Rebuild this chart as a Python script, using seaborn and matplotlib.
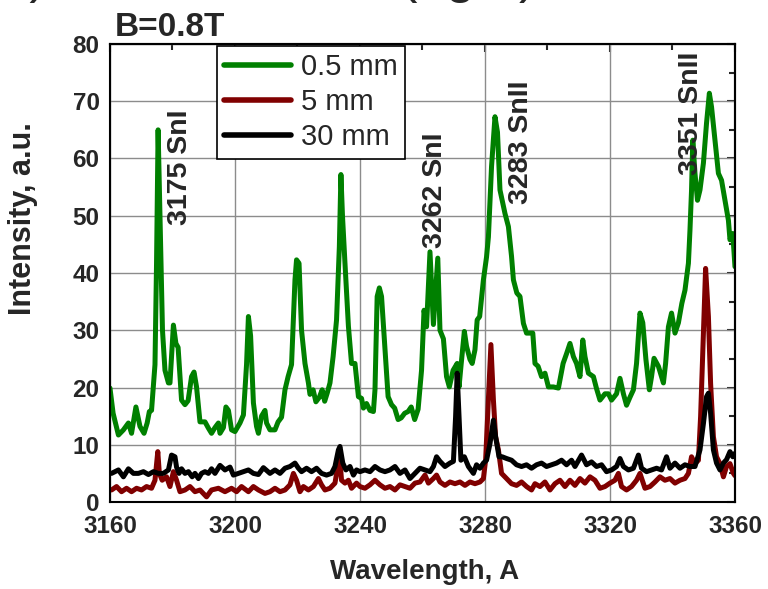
import matplotlib
matplotlib.use("Agg")
import matplotlib.pyplot as plt
from matplotlib.ticker import MultipleLocator
import pandas as pd
import seaborn as sns

# 0.5 mm (green)
wl_05 = [3160.0, 3161.0, 3162.7, 3164.3, 3165.9, 3166.9, 3168.3, 3169.6, 3170.9, 3171.9,
         3172.6, 3173.3, 3174.4, 3174.9, 3175.4, 3176.0, 3176.8, 3177.6, 3178.7, 3179.2,
         3180.3, 3181.1, 3181.8, 3182.9, 3184.0, 3185.0, 3186.1, 3186.9, 3187.7, 3188.8,
         3190.4, 3191.5, 3192.5, 3193.6, 3194.7, 3195.2, 3196.3, 3197.1, 3197.9, 3198.9,
         3200.0, 3201.6, 3202.7, 3203.7, 3204.3, 3205.0, 3205.9, 3206.9, 3207.5, 3208.5,
         3209.6, 3210.1, 3211.2, 3212.8, 3213.8, 3214.9, 3216.0, 3217.0, 3218.1, 3219.2,
         3219.7, 3220.5, 3221.3, 3222.4, 3223.5, 3224.0, 3225.0, 3225.9, 3227.0, 3227.9,
         3228.7, 3229.5, 3230.4, 3231.4, 3232.5, 3233.4, 3233.9, 3234.4, 3235.2, 3236.3,
         3237.3, 3238.4, 3239.5, 3240.5, 3241.1, 3242.1, 3243.2, 3244.3, 3244.8, 3245.5,
         3246.2, 3246.9, 3247.9, 3249.0, 3250.1, 3251.1, 3252.2, 3253.2, 3254.3, 3255.4,
         3256.4, 3257.5, 3258.6, 3259.7, 3260.5, 3261.3, 3262.4, 3263.5, 3264.9, 3265.6,
         3266.7, 3267.7, 3268.6, 3269.8, 3271.1, 3271.7, 3272.4, 3273.4, 3274.1, 3275.2,
         3275.9, 3276.8, 3277.5, 3278.3, 3279.5, 3280.5, 3281.1, 3282.1, 3283.2, 3284.0,
         3284.8, 3286.4, 3287.5, 3288.5, 3289.1, 3290.2, 3291.2, 3292.3, 3293.3, 3294.4,
         3295.3, 3296.0, 3297.0, 3298.1, 3299.2, 3300.3, 3301.9, 3303.5, 3305.0, 3306.1,
         3307.2, 3308.3, 3309.3, 3310.4, 3311.3, 3312.0, 3313.1, 3314.7, 3315.7, 3316.8,
         3318.4, 3319.5, 3320.5, 3322.1, 3323.2, 3324.3, 3325.3, 3326.4, 3327.5, 3328.5,
         3329.6, 3330.5, 3331.5, 3332.6, 3333.3, 3334.1, 3335.5, 3336.5, 3337.1, 3337.8,
         3338.7, 3339.7, 3340.8, 3341.9, 3343.0, 3344.0, 3345.1, 3345.6, 3346.1, 3346.5,
         3347.2, 3348.0, 3348.8, 3349.9, 3350.9, 3351.8, 3352.5, 3353.6, 3354.7, 3355.7,
         3356.8, 3357.9, 3358.4, 3359.3, 3360.0]
int_05 = [19.9, 15.5, 11.7, 12.6, 13.8, 12.0, 16.6, 13.2, 12.0, 13.8,
          15.8, 16.0, 24.0, 41.7, 65.0, 50.0, 30.0, 23.0, 20.8, 20.8,
          30.9, 27.7, 27.0, 17.8, 17.0, 17.7, 21.9, 22.7, 20.1, 14.0,
          14.0, 12.9, 12.0, 13.0, 13.8, 12.0, 13.0, 16.6, 16.0, 12.6,
          12.3, 13.8, 15.2, 24.0, 32.4, 29.0, 17.3, 13.2, 12.0, 15.0,
          16.0, 13.8, 12.6, 12.6, 14.0, 14.8, 19.6, 21.9, 24.0, 38.8,
          42.3, 41.7, 30.0, 24.2, 20.8, 18.8, 19.6, 17.5, 18.3, 19.6,
          17.6, 19.0, 20.8, 25.4, 31.8, 44.6, 57.2, 50.0, 41.7, 30.7,
          24.2, 24.2, 18.4, 18.1, 16.4, 17.2, 16.0, 15.8, 19.6, 35.9,
          37.4, 35.9, 27.7, 18.4, 17.0, 16.4, 14.4, 14.7, 15.5, 15.8,
          16.6, 14.4, 16.2, 23.0, 33.5, 30.6, 43.7, 31.0, 42.6, 30.0,
          28.5, 21.9, 20.1, 23.0, 24.2, 20.1, 24.2, 29.8, 27.2, 24.9,
          24.2, 26.6, 31.8, 32.4, 38.8, 42.8, 46.3, 58.6, 67.3, 64.6,
          54.5, 50.4, 48.1, 42.9, 38.8, 36.5, 35.9, 31.2, 29.5, 29.5,
          29.5, 24.2, 23.7, 21.9, 22.5, 20.1, 20.1, 19.9, 24.2, 25.9,
          27.7, 25.4, 24.2, 21.9, 28.3, 25.4, 22.5, 21.9, 19.8, 17.8,
          18.9, 18.9, 17.8, 18.9, 21.6, 18.9, 16.9, 18.3, 19.6, 24.2,
          33.0, 31.3, 24.9, 19.6, 21.9, 25.1, 23.7, 21.9, 20.8, 24.2,
          30.6, 33.0, 29.5, 31.3, 34.7, 37.0, 41.7, 47.5, 54.5, 63.2,
          57.4, 52.7, 54.5, 59.2, 66.2, 71.4, 69.0, 63.2, 57.4, 56.2,
          52.7, 49.2, 45.8, 46.9, 41.1]

# 5 mm (dark red)
wl_5 = [3160.5, 3162.1, 3163.7, 3165.3, 3166.9, 3168.5, 3170.1, 3171.7, 3173.3, 3174.4,
        3175.3, 3175.8, 3176.7, 3178.1, 3179.2, 3180.3, 3181.3, 3182.4, 3184.0, 3185.6,
        3187.2, 3188.8, 3190.4, 3190.9, 3192.5, 3194.7, 3196.8, 3198.9, 3200.5, 3202.1,
        3204.3, 3205.9, 3207.5, 3209.6, 3211.2, 3212.8, 3214.4, 3216.0, 3217.6, 3218.7,
        3219.7, 3220.8, 3221.9, 3223.5, 3225.1, 3226.7, 3227.7, 3228.8, 3230.4, 3232.0,
        3232.7, 3233.4, 3234.1, 3235.2, 3236.3, 3237.3, 3238.9, 3240.0, 3241.6, 3243.2,
        3244.8, 3246.4, 3248.0, 3249.6, 3251.2, 3252.8, 3254.4, 3256.0, 3257.6, 3259.2,
        3260.8, 3261.9, 3263.5, 3264.5, 3265.6, 3267.2, 3268.8, 3270.4, 3272.0, 3273.6,
        3275.2, 3276.8, 3278.4, 3279.5, 3280.2, 3281.1, 3281.9, 3282.7, 3283.4, 3284.3,
        3285.3, 3286.9, 3288.5, 3290.1, 3291.7, 3293.3, 3294.9, 3296.0, 3297.6, 3299.2,
        3300.8, 3302.4, 3304.0, 3305.6, 3307.2, 3308.8, 3310.4, 3312.0, 3313.6, 3315.2,
        3316.8, 3318.4, 3320.0, 3321.6, 3322.7, 3323.7, 3325.3, 3326.9, 3328.5, 3329.6,
        3331.2, 3332.8, 3334.4, 3336.0, 3337.6, 3339.2, 3340.8, 3342.4, 3344.0, 3345.1,
        3346.1, 3347.2, 3348.3, 3349.0, 3349.9, 3350.6, 3351.5, 3352.2, 3353.1, 3354.1,
        3355.2, 3356.3, 3357.3, 3358.4, 3359.5, 3360.0]
int_5 = [2.1, 2.7, 1.8, 2.4, 1.8, 2.4, 2.1, 2.7, 2.4, 3.8,
         8.8, 5.0, 3.8, 4.4, 2.7, 5.3, 3.8, 1.8, 2.1, 2.7,
         1.8, 2.1, 1.2, 0.9, 2.1, 2.4, 1.8, 2.4, 1.8, 2.7,
         1.8, 2.7, 2.1, 1.5, 1.8, 2.4, 1.8, 2.1, 3.0, 5.0,
         3.8, 1.8, 2.7, 2.1, 2.7, 4.1, 3.0, 2.1, 2.4, 3.3,
         5.6, 8.5, 3.8, 3.3, 3.8, 2.4, 3.3, 2.7, 2.4, 3.0,
         3.8, 3.0, 2.4, 2.7, 2.1, 3.0, 2.7, 2.4, 3.3, 3.5,
         4.7, 3.3, 4.1, 4.7, 3.5, 2.9, 3.5, 3.2, 3.5, 2.9,
         3.5, 3.2, 3.5, 4.1, 7.3, 17.8, 27.5, 17.8, 11.4, 9.1,
         5.0, 4.1, 3.2, 2.9, 3.5, 2.7, 2.1, 3.2, 2.7, 3.5,
         2.1, 3.2, 3.8, 2.7, 3.8, 2.9, 4.1, 3.3, 4.4, 3.8,
         2.4, 2.7, 3.3, 3.8, 5.0, 2.7, 2.1, 2.7, 3.8, 5.0,
         2.4, 2.7, 3.5, 4.4, 3.8, 4.1, 3.3, 3.8, 4.1, 5.0,
         7.9, 6.7, 7.3, 14.9, 29.4, 40.8, 32.4, 20.7, 11.4, 7.9,
         6.7, 4.4, 6.2, 6.7, 5.0, 4.6]

# 30 mm (black)
wl_30 = [3160.5, 3162.7, 3164.3, 3165.9, 3167.5, 3169.1, 3170.7, 3172.3, 3173.9, 3175.5,
         3177.1, 3178.7, 3179.7, 3180.8, 3181.3, 3182.1, 3182.9, 3184.0, 3185.1, 3186.3,
         3187.2, 3188.3, 3189.3, 3190.4, 3191.5, 3192.5, 3193.6, 3195.2, 3196.8, 3198.4,
         3199.5, 3201.1, 3202.7, 3204.3, 3205.9, 3207.5, 3209.1, 3211.2, 3212.8, 3214.4,
         3216.0, 3217.6, 3219.2, 3220.3, 3221.3, 3222.9, 3224.5, 3226.1, 3227.7, 3229.3,
         3230.9, 3232.0, 3233.1, 3233.6, 3234.5, 3235.5, 3236.8, 3237.9, 3238.9, 3240.0,
         3241.6, 3243.2, 3244.8, 3246.4, 3248.0, 3249.6, 3251.2, 3252.8, 3254.4, 3256.0,
         3257.6, 3259.2, 3260.8, 3262.4, 3263.5, 3264.5, 3265.6, 3267.2, 3268.8, 3269.9,
         3270.6, 3271.1, 3271.7, 3272.3, 3273.4, 3274.7, 3276.3, 3277.3, 3278.4, 3279.5,
         3280.5, 3281.6, 3282.7, 3283.4, 3284.5, 3285.5, 3286.9, 3288.5, 3290.1, 3291.7,
         3293.3, 3294.9, 3296.5, 3298.1, 3299.7, 3301.3, 3302.9, 3304.5, 3306.1, 3307.7,
         3308.8, 3310.9, 3312.5, 3314.1, 3315.7, 3317.3, 3318.9, 3320.5, 3322.1, 3323.2,
         3324.3, 3325.9, 3327.5, 3329.1, 3330.1, 3331.7, 3333.3, 3334.9, 3336.5, 3338.1,
         3339.2, 3340.8, 3342.4, 3344.0, 3345.6, 3347.2, 3348.8, 3349.9, 3350.9, 3351.5,
         3352.2, 3353.1, 3354.1, 3355.2, 3356.3, 3357.3, 3358.4, 3359.3, 3360.0]
int_30 = [5.0, 5.6, 4.4, 5.8, 5.0, 5.0, 5.3, 4.8, 5.3, 5.0,
          5.0, 5.6, 8.2, 7.9, 6.1, 5.0, 5.8, 5.0, 5.3, 4.4,
          5.0, 4.1, 5.0, 5.3, 5.0, 5.8, 5.0, 6.4, 5.6, 6.1,
          4.7, 5.0, 5.3, 5.6, 5.0, 4.8, 6.0, 5.0, 5.6, 5.0,
          5.9, 6.2, 6.8, 5.9, 5.3, 5.9, 5.3, 5.9, 5.0, 4.7,
          5.0, 6.2, 9.1, 9.7, 6.8, 5.6, 6.2, 4.7, 5.6, 5.3,
          5.6, 5.3, 6.2, 5.6, 5.3, 5.6, 6.2, 5.0, 5.6, 4.1,
          5.0, 5.9, 5.6, 5.3, 6.2, 7.9, 7.1, 6.2, 6.8, 7.1,
          14.9, 22.5, 14.9, 7.3, 7.9, 6.2, 5.0, 6.5, 5.9, 6.8,
          7.3, 10.2, 14.3, 11.4, 7.9, 7.9, 7.6, 7.3, 6.5, 6.2,
          6.5, 5.9, 6.5, 6.8, 6.2, 6.5, 6.8, 7.3, 6.5, 7.3,
          6.2, 8.2, 6.5, 7.0, 6.2, 6.5, 5.3, 5.6, 6.2, 7.6,
          6.2, 5.6, 5.9, 8.2, 5.9, 5.3, 5.6, 5.9, 5.6, 7.9,
          5.9, 6.8, 5.9, 6.5, 6.2, 6.2, 9.1, 13.7, 18.4, 19.0,
          15.5, 9.1, 6.8, 5.6, 6.8, 7.4, 8.8, 7.9, 8.5]

series_labels = ["0.5 mm", "5 mm", "30 mm"]
series_colors = ["#008000", "#800000", "#000000"]

line_labels = ["3175 SnI", "3262 SnI", "3283 SnII", "3351 SnII"]
line_x = [3182.5, 3264.0, 3291.5, 3346.0]
line_top = [68.5, 64.5, 73.7, 78.6]

df = pd.concat([
    pd.DataFrame({"wl": wl_05, "I": int_05, "d": series_labels[0]}),
    pd.DataFrame({"wl": wl_5, "I": int_5, "d": series_labels[1]}),
    pd.DataFrame({"wl": wl_30, "I": int_30, "d": series_labels[2]}),
], ignore_index=True)

sns.set_style("white")
plt.rcParams['font.family'] = ['Liberation Sans', 'DejaVu Sans']

fig = plt.figure(figsize=(7.68, 5.89), dpi=100)
ax = fig.add_axes([0.1432, 0.1477, 0.8138, 0.7776])

sns.lineplot(data=df, x="wl", y="I", hue="d", hue_order=series_labels,
             palette=dict(zip(series_labels, series_colors)),
             estimator=None, sort=False, lw=3.6, ax=ax)

ax.set_xlim(3160, 3360)
ax.set_ylim(0, 80)
ax.xaxis.set_major_locator(MultipleLocator(40))
ax.xaxis.set_minor_locator(MultipleLocator(20))
ax.yaxis.set_major_locator(MultipleLocator(10))
ax.yaxis.set_minor_locator(MultipleLocator(5))
ax.grid(True, which='major', color='#8c8c8c', lw=1.0)
ax.set_axisbelow(True)
for s in ax.spines.values():
    s.set_color('black')
    s.set_linewidth(1.5)
ax.tick_params(which='major', direction='out', length=6, width=1.5,
               labelsize=17.5, pad=3)
ax.tick_params(which='minor', direction='out', length=4, width=1.5)
ax.tick_params(axis='y', pad=1.5)
plt.setp(ax.get_xticklabels() + ax.get_yticklabels(), fontweight='bold')

# inward ticks on top and right
top = ax.secondary_xaxis('top')
top.xaxis.set_major_locator(MultipleLocator(40))
top.xaxis.set_minor_locator(MultipleLocator(20))
top.tick_params(which='both', direction='in', labeltop=False, width=1.5)
top.tick_params(which='major', length=6)
top.tick_params(which='minor', length=4)
right = ax.secondary_yaxis('right')
right.yaxis.set_major_locator(MultipleLocator(10))
right.yaxis.set_minor_locator(MultipleLocator(5))
right.tick_params(which='both', direction='in', labelright=False, width=1.5)
right.tick_params(which='major', length=6)
right.tick_params(which='minor', length=4)
for sec in (top, right):
    for s in sec.spines.values():
        s.set_linewidth(1.5)

ax.set_xlabel("Wavelength, A", fontsize=20, fontweight='bold')
ax.set_ylabel("Intensity, a.u.", fontsize=22, fontweight='bold')
ax.xaxis.set_label_coords(0.504, -0.125)
ax.yaxis.set_label_coords(-0.115, 0.618)

for lab, x, y in zip(line_labels, line_x, line_top):
    ax.text(x, y, lab, rotation=90, ha='center', va='top',
            fontsize=20.5, fontweight='bold')

leg = ax.legend(loc='upper left', bbox_to_anchor=(0.171, 0.9956), borderaxespad=0,
                fontsize=21, frameon=True, fancybox=False, edgecolor='black',
                framealpha=1, handlelength=2.3, handletextpad=0.35,
                labelspacing=0.24, borderpad=0.25, title=None)
leg.get_frame().set_linewidth(1.2)
for h in leg.get_lines():
    h.set_linewidth(4)

fig.text(115 / 768, 1 - 36 / 589, "B=0.8T", fontsize=24, fontweight='bold',
         va='baseline', ha='left')
# cut-off heading fragments at the very top
fig.text(48 / 768, 1 + 8 / 589, "b)", fontsize=38, va='baseline', ha='right')
fig.text(400 / 768, 1 + 8 / 589, "(right)", fontsize=38, va='baseline', ha='left')

fig.savefig("out.png", dpi=100)
